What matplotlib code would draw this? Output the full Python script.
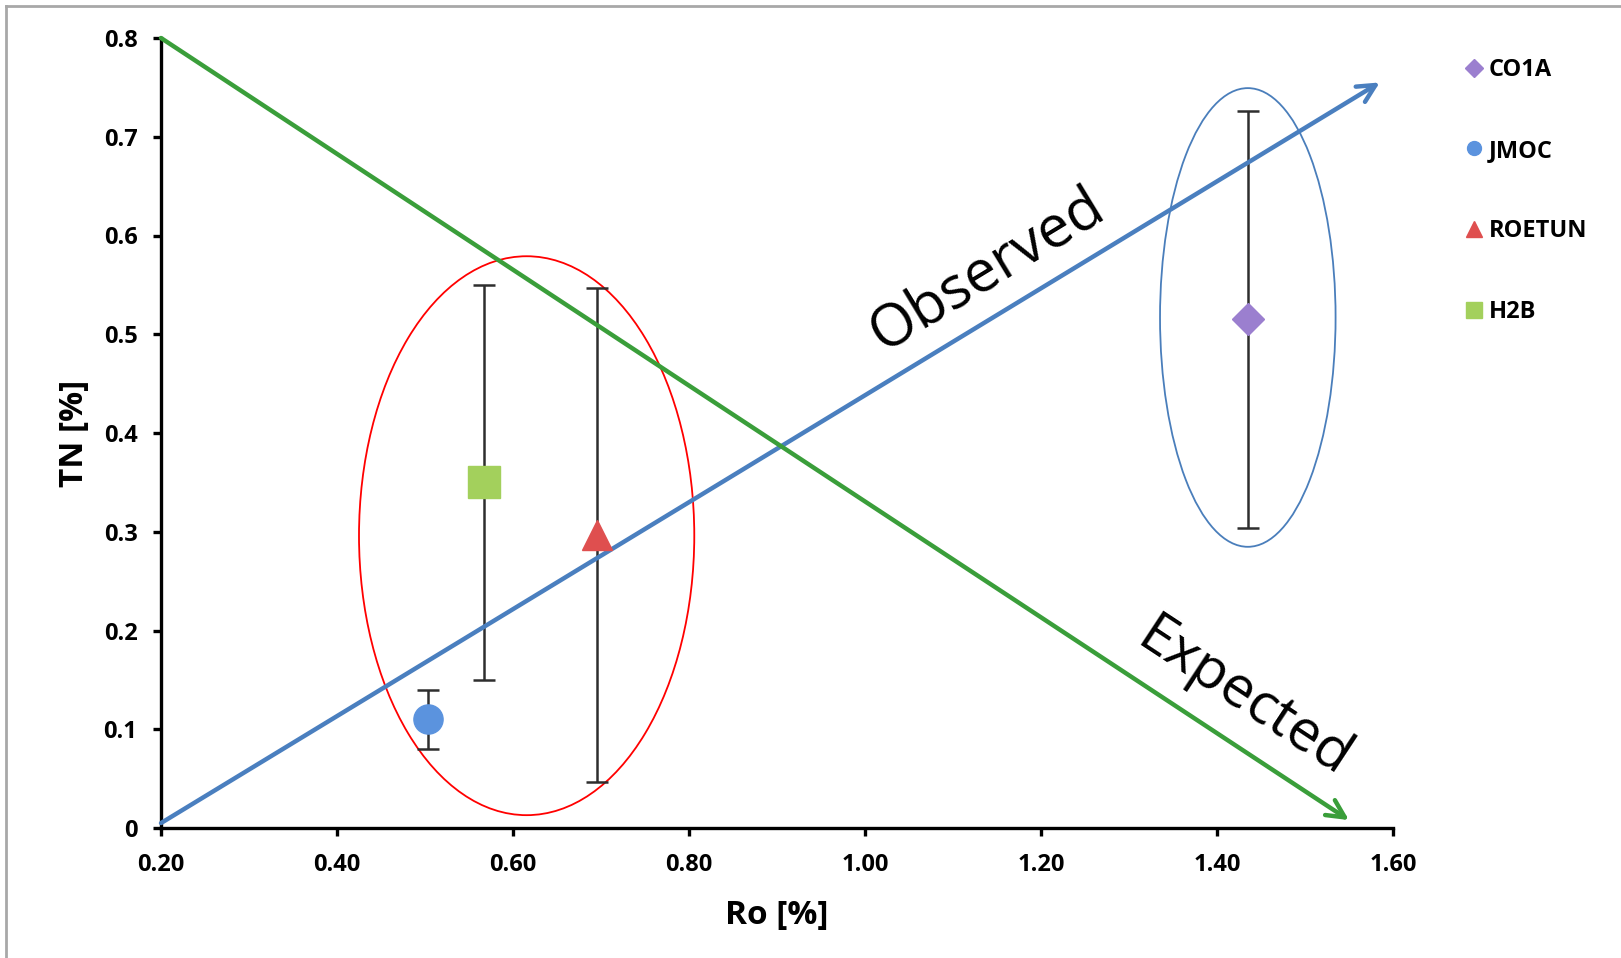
import math
import matplotlib
matplotlib.use('Agg')
import matplotlib.pyplot as plt
from matplotlib.patches import Ellipse
from matplotlib.lines import Line2D

# ---------------- data ----------------
samples = ['CO1A', 'JMOC', 'ROETUN', 'H2B']
ro = [1.435, 0.503, 0.696, 0.567]
tn = [0.515, 0.110, 0.297, 0.350]
tn_err = [0.211, 0.030, 0.250, 0.200]

x_ticks = [0.20, 0.40, 0.60, 0.80, 1.00, 1.20, 1.40, 1.60]
x_tick_labels = ['0.20', '0.40', '0.60', '0.80', '1.00', '1.20', '1.40', '1.60']
y_ticks = [0, 0.1, 0.2, 0.3, 0.4, 0.5, 0.6, 0.7, 0.8]
y_tick_labels = ['0', '0.1', '0.2', '0.3', '0.4', '0.5', '0.6', '0.7', '0.8']

# trend arrows (start, end) in data units
observed_x = [0.20, 1.585]
observed_y = [0.005, 0.755]
expected_x = [0.20, 1.55]
expected_y = [0.80, 0.008]

# highlight ellipses: centre x, centre y, width, height
group_ellipse_x = [0.6155, 1.435]
group_ellipse_y = [0.296, 0.517]
group_ellipse_w = [0.381, 0.1995]
group_ellipse_h = [0.566, 0.4645]

# ---------------- styles ----------------
colors = ['#9b7fcf', '#5b93de', '#df4f4f', '#a3d05c']
markers = ['D', 'o', '^', 's']
marker_sizes = [16, 21, 22, 23]
legend_sizes = [9, 10, 11, 11]
ellipse_colors = ['#ff0000', '#4a7ebb']
blue_line = '#4a7fbf'
green_line = '#3a9e3a'

W, H = 1621, 958
fig = plt.figure(figsize=(W / 100, H / 100), dpi=100)
fig.patch.set_facecolor('white')
ax = fig.add_axes([161 / W, 1 - 828 / H, (1393 - 161) / W, (828 - 38) / H])

ax.set_xlim(0.2, 1.6)
ax.set_ylim(0, 0.8)

bold = dict(family='Open Sans', weight='bold')

# ellipses
for cx, cy, w, h, c in zip(group_ellipse_x, group_ellipse_y, group_ellipse_w,
                           group_ellipse_h, ellipse_colors):
    ax.add_patch(Ellipse((cx, cy), w, h, fill=False, edgecolor=c, lw=1.3, zorder=2))

# error bars + markers
for x, y, e, c, m, s in zip(ro, tn, tn_err, colors, markers, marker_sizes):
    ax.errorbar([x], [y], yerr=[e], fmt='none', ecolor='#2e2e2e', elinewidth=1.8,
                capsize=8, capthick=1.8, zorder=3)
    ax.plot([x], [y], linestyle='none', marker=m, markersize=s, color=c,
            markeredgecolor=c, zorder=5, clip_on=False)

# arrows
ax.annotate('', xy=(observed_x[1], observed_y[1]), xytext=(observed_x[0], observed_y[0]),
            arrowprops=dict(arrowstyle='->', lw=3.2, color=blue_line,
                            mutation_scale=32, shrinkA=0, shrinkB=0),
            zorder=4, annotation_clip=False)
ax.annotate('', xy=(expected_x[1], expected_y[1]), xytext=(expected_x[0], expected_y[0]),
            arrowprops=dict(arrowstyle='->', lw=3.2, color=green_line,
                            mutation_scale=32, shrinkA=0, shrinkB=0),
            zorder=4, annotation_clip=False)


def screen_angle(xs, ys):
    p0 = ax.transData.transform((xs[0], ys[0]))
    p1 = ax.transData.transform((xs[1], ys[1]))
    return math.degrees(math.atan2(p1[1] - p0[1], p1[0] - p0[0]))


ax.text(1.139, 0.564, 'Observed', rotation=screen_angle(observed_x, observed_y),
        rotation_mode='anchor', ha='center', va='center', fontsize=42,
        family='Open Sans', color='black', zorder=6)
ax.text(1.430, 0.131, 'Expected', rotation=screen_angle(expected_x, expected_y),
        rotation_mode='anchor', ha='center', va='center', fontsize=41,
        family='Open Sans', color='black', zorder=6)

# axes styling
for side in ['top', 'right']:
    ax.spines[side].set_visible(False)
for side in ['left', 'bottom']:
    ax.spines[side].set_linewidth(2.4)
    ax.spines[side].set_color('black')
ax.set_xticks(x_ticks)
ax.set_xticklabels(x_tick_labels, **bold)
ax.set_yticks(y_ticks)
ax.set_yticklabels(y_tick_labels, **bold)
ax.tick_params(axis='both', direction='out', length=6, width=2.4, labelsize=17,
               colors='black')
ax.tick_params(axis='x', pad=12)
ax.tick_params(axis='y', pad=11)

ax.set_xlabel('Ro [%]', fontsize=24, labelpad=16, **bold)
ax.set_ylabel('TN [%]', fontsize=24, labelpad=9, **bold)

# legend
handles = [Line2D([], [], linestyle='none', marker=m, markersize=s, color=c)
           for m, s, c in zip(markers, legend_sizes, colors)]
fig.legend(handles, samples, loc='upper left',
           bbox_to_anchor=(1466 / W, 1 - 58 / H), frameon=False,
           handlelength=0.7, handletextpad=0.25, labelspacing=2.4,
           borderpad=0, borderaxespad=0,
           prop=dict(family='Open Sans', weight='bold', size=17))

# screenshot frame lines (left and top)
fig.add_artist(Line2D([6 / W, 6 / W], [0, 1 - 6 / H], transform=fig.transFigure,
                      color='#a8a8a8', lw=2))
fig.add_artist(Line2D([6 / W, 1], [1 - 6 / H, 1 - 6 / H], transform=fig.transFigure,
                      color='#a8a8a8', lw=2))

fig.savefig('out.png', dpi=100, facecolor='white')
